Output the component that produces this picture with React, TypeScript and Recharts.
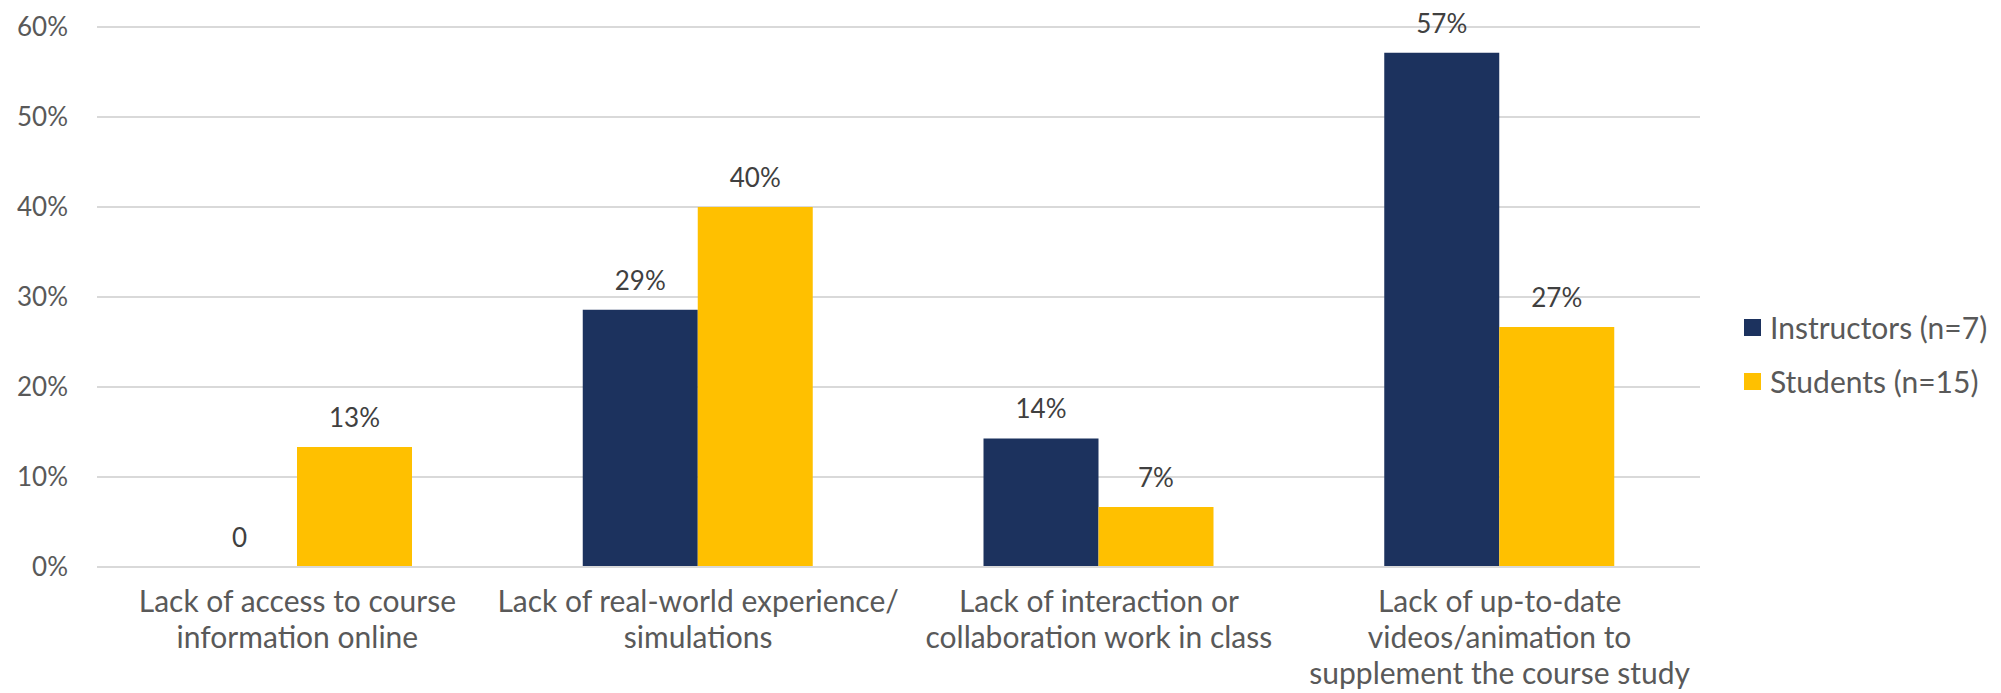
import { BarChart, Bar, XAxis, YAxis, CartesianGrid, Legend, LabelList } from 'recharts'

const CATEGORIES = [
  'Lack of access to course information online',
  'Lack of real-world experience/ simulations',
  'Lack of interaction or collaboration work in class',
  'Lack of up-to-date videos/animation to supplement the course study',
]

const CATEGORY_LINES = [
  ['Lack of access to course', 'information online'],
  ['Lack of real-world experience/', 'simulations'],
  ['Lack of interaction or', 'collaboration work in class'],
  ['Lack of up-to-date', 'videos/animation to', 'supplement the course study'],
]

const INSTRUCTORS = [0, 28.57, 14.29, 57.14]
const STUDENTS = [13.33, 40, 6.67, 26.67]

const Y_TICKS = [0, 10, 20, 30, 40, 50, 60]

const FONT = 'Lato, "Open Sans", sans-serif'

const data = CATEGORIES.map((name, i) => ({
  name,
  instructors: INSTRUCTORS[i],
  students: STUDENTS[i],
}))

function formatValue(v: number) {
  return v === 0 ? '0' : `${Math.round(v)}%`
}

function CategoryTick({ x, y, payload }: any) {
  const idx = CATEGORIES.indexOf(payload.value)
  const lines = CATEGORY_LINES[idx] || [payload.value]
  return (
    <text x={x} y={y} textAnchor="middle" fill="#595959" fontSize={30} fontFamily={FONT}>
      {lines.map((line, i) => (
        <tspan key={i} x={x} dy={i === 0 ? 37 : 36}>{line}</tspan>
      ))}
    </text>
  )
}

function labelText(cx: number, y: number, value: number) {
  return (
    <text x={cx} y={y - 20} textAnchor="middle" fill="#404040" fontSize={26} fontFamily={FONT}>
      {formatValue(value)}
    </text>
  )
}

function ValueLabel({ x, y, width, value }: any) {
  return labelText(x + width / 2, y, Number(value))
}

// zero-height instructor bars get no label entry, so the student label
// (drawn right next to it, barGap 0) also writes the "0" in the left slot
function StudentLabel({ x, y, width, height, value, index }: any) {
  const zero = INSTRUCTORS[index] === 0
  return (
    <g>
      {labelText(x + width / 2, y, Number(value))}
      {zero && labelText(x - width / 2, y + height, 0)}
    </g>
  )
}

function LegendBox({ payload }: any) {
  return (
    <div style={{ fontFamily: FONT, fontSize: 30, color: '#595959' }}>
      {(payload || []).map((entry: any) => (
        <div key={entry.value} style={{ display: 'flex', alignItems: 'center', height: 54, whiteSpace: 'nowrap' }}>
          <span style={{ display: 'inline-block', width: 17, height: 17, background: entry.color, marginRight: 9 }} />
          <span>{entry.value}</span>
        </div>
      ))}
    </div>
  )
}

export default function App() {
  return (
    <div style={{ position: 'absolute', left: 0, top: 0, background: '#fff' }}>
      <BarChart
        width={2001}
        height={693}
        data={data}
        margin={{ top: 27, right: 301, bottom: 0, left: 0 }}
        barGap={0}
        barSize={115}
      >
        <CartesianGrid vertical={false} stroke="#d9d9d9" strokeWidth={2} />
        <XAxis
          dataKey="name"
          tick={<CategoryTick />}
          tickLine={false}
          axisLine={{ stroke: '#d9d9d9', strokeWidth: 2 }}
          interval={0}
          height={126}
        />
        <YAxis
          width={97}
          domain={[0, 60]}
          ticks={Y_TICKS}
          tickFormatter={(v) => `${v}%`}
          tick={{ fontSize: 26, fill: '#595959', fontFamily: FONT }}
          tickLine={false}
          axisLine={false}
          tickSize={0}
          tickMargin={29}
        />
        <Legend
          layout="horizontal"
          align="center"
          verticalAlign="middle"
          content={<LegendBox />}
          wrapperStyle={{ left: 1744, top: 300, width: 257 }}
        />
        <Bar dataKey="instructors" name="Instructors (n=7)" fill="#1c325e" isAnimationActive={false}>
          <LabelList dataKey="instructors" content={<ValueLabel />} />
        </Bar>
        <Bar dataKey="students" name="Students (n=15)" fill="#ffc000" isAnimationActive={false}>
          <LabelList dataKey="students" content={<StudentLabel />} />
        </Bar>
      </BarChart>
    </div>
  )
}
